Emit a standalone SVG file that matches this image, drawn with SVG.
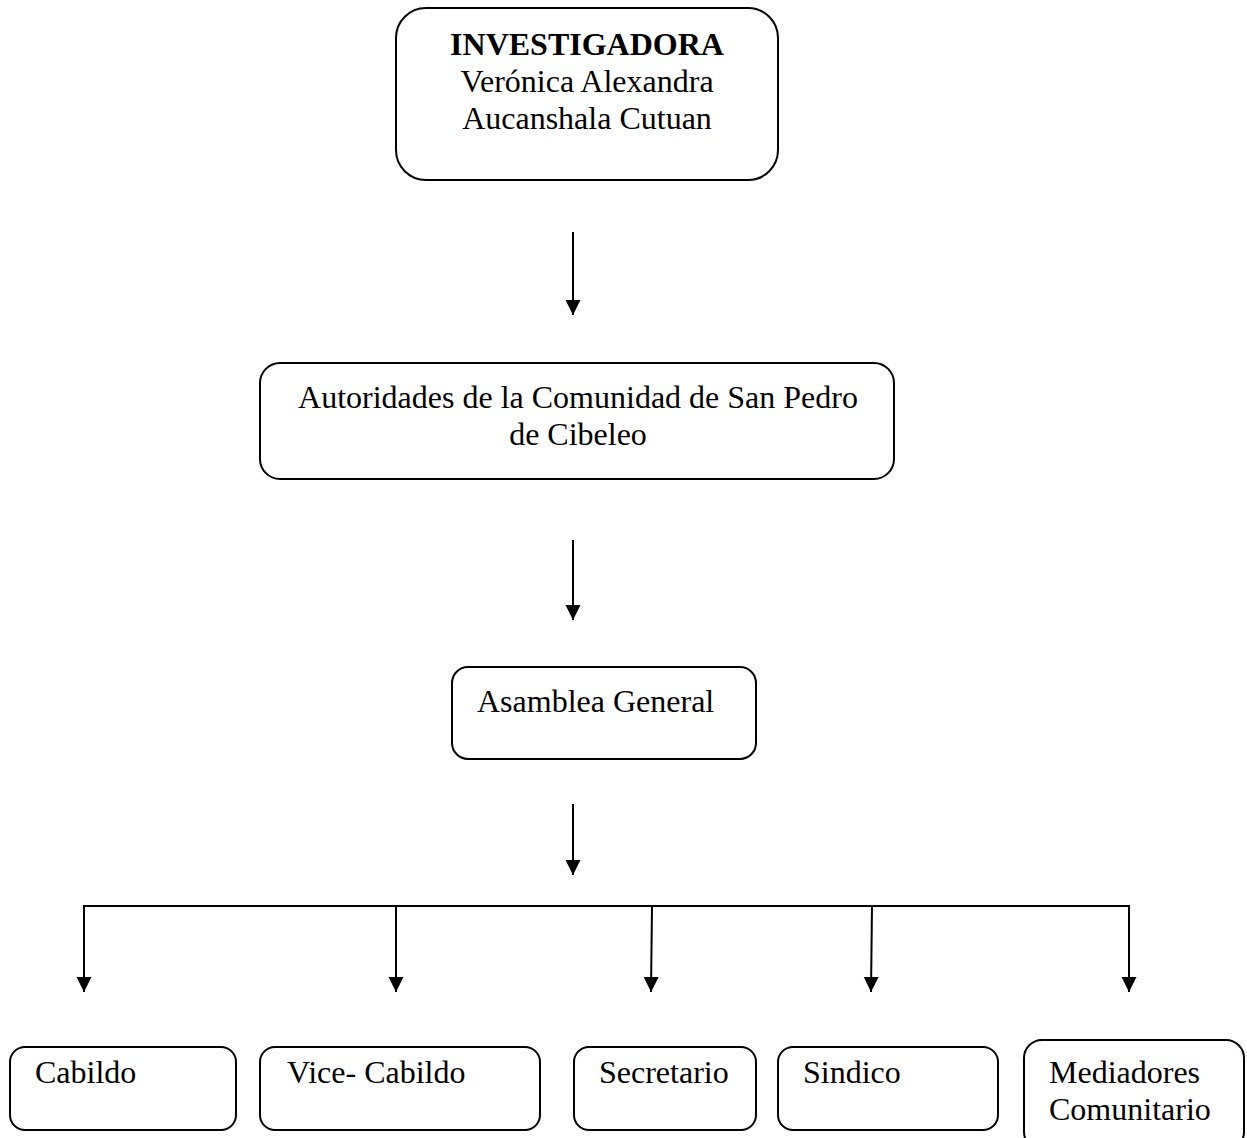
<svg xmlns="http://www.w3.org/2000/svg" width="1247" height="1138" viewBox="0 0 1247 1138">
<style>
.box{fill:#fff;stroke:#000;stroke-width:2}
.t{font-family:"Liberation Serif","Times New Roman",serif;font-size:32px;fill:#000}
.c{text-anchor:middle}
.b{font-weight:bold}
.ln{stroke:#000;stroke-width:2;fill:none}
</style>
<defs>
<marker id="ah" markerUnits="userSpaceOnUse" markerWidth="16" markerHeight="16" refX="15" refY="7.5" orient="auto">
<path d="M0,0 L15,7.5 L0,15 Z" fill="#000"/>
</marker>
</defs>
<rect width="1247" height="1138" fill="#fff"/>
<g id="connectors">
<line class="ln" x1="573" y1="232" x2="573" y2="315" marker-end="url(#ah)"/>
<line class="ln" x1="573" y1="540" x2="573" y2="620" marker-end="url(#ah)"/>
<line class="ln" x1="573" y1="804" x2="573" y2="875" marker-end="url(#ah)"/>
<line class="ln" x1="83" y1="906" x2="1130" y2="906"/>
<line class="ln" x1="84" y1="906" x2="84" y2="992" marker-end="url(#ah)"/>
<line class="ln" x1="396" y1="906" x2="396" y2="992" marker-end="url(#ah)"/>
<line class="ln" x1="652" y1="906" x2="651" y2="992" marker-end="url(#ah)"/>
<line class="ln" x1="872" y1="906" x2="871" y2="992" marker-end="url(#ah)"/>
<line class="ln" x1="1129" y1="906" x2="1129" y2="992" marker-end="url(#ah)"/>
</g>
<g id="investigadora">
<rect class="box" x="396" y="8" width="382" height="172" rx="30" ry="30"/>
<text class="t c b" x="587" y="55">INVESTIGADORA</text>
<text class="t c" x="587" y="92">Verónica Alexandra</text>
<text class="t c" x="587" y="129">Aucanshala Cutuan</text>
</g>
<g id="autoridades">
<rect class="box" x="260" y="363" width="634" height="116" rx="20" ry="20"/>
<text class="t c" x="578" y="408">Autoridades de la Comunidad de San Pedro</text>
<text class="t c" x="578" y="445">de Cibeleo</text>
</g>
<g id="asamblea">
<rect class="box" x="452" y="667" width="304" height="92" rx="16" ry="16"/>
<text class="t" x="477" y="712">Asamblea General</text>
</g>
<g id="cabildo">
<rect class="box" x="10" y="1047" width="226" height="83" rx="15" ry="15"/>
<text class="t" x="35" y="1083">Cabildo</text>
</g>
<g id="vicecabildo">
<rect class="box" x="260" y="1047" width="280" height="83" rx="15" ry="15"/>
<text class="t" x="287" y="1083">Vice- Cabildo</text>
</g>
<g id="secretario">
<rect class="box" x="574" y="1047" width="182" height="83" rx="15" ry="15"/>
<text class="t" x="599" y="1083">Secretario</text>
</g>
<g id="sindico">
<rect class="box" x="778" y="1047" width="220" height="83" rx="15" ry="15"/>
<text class="t" x="803" y="1083">Sindico</text>
</g>
<g id="mediadores">
<rect class="box" x="1024" y="1040" width="220" height="110" rx="18" ry="18"/>
<text class="t" x="1049" y="1083">Mediadores</text>
<text class="t" x="1049" y="1120">Comunitario</text>
</g>
</svg>
